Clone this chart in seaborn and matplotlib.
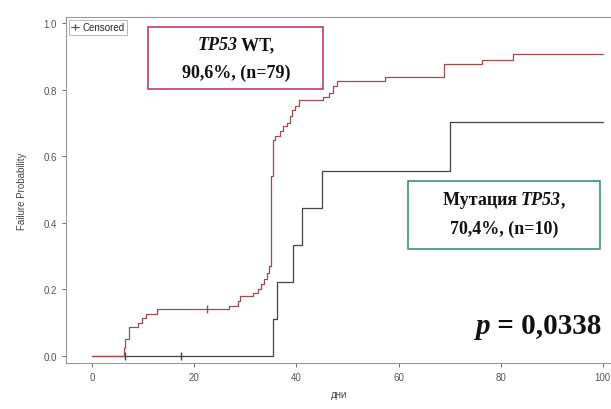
import numpy as np
import pandas as pd
import matplotlib
matplotlib.use('Agg')
import matplotlib.pyplot as plt
import seaborn as sns
from matplotlib.lines import Line2D
from matplotlib.patches import Rectangle

# cumulative failure probability
wt_time = [0, 6.3, 6.5, 7.2, 9.0, 9.7, 10.6, 12.8, 26.8, 28.5, 29.0, 31.5, 32.5, 33.0,
           33.6, 34.2, 34.6, 35.0, 35.5, 35.9, 36.8, 37.4, 38.1, 38.7, 39.2, 39.8, 40.5,
           45.2, 46.3, 47.2, 48.0, 57.3, 69.0, 76.3, 82.4, 100]
wt_prob = [0, 0.025, 0.05, 0.087, 0.10, 0.114, 0.127, 0.14, 0.15, 0.165, 0.18, 0.19, 0.20, 0.215,
           0.23, 0.25, 0.27, 0.54, 0.65, 0.66, 0.677, 0.69, 0.70, 0.72, 0.74, 0.75, 0.77,
           0.778, 0.79, 0.81, 0.826, 0.837, 0.877, 0.89, 0.906, 0.906]

mut_time = [0, 35.5, 36.2, 39.3, 41.1, 45.0, 70.0, 100]
mut_prob = [0, 0.111, 0.222, 0.333, 0.444, 0.556, 0.704, 0.704]

wt_cens_time = [22.5]
wt_cens_prob = [0.14]
mut_cens_time = [6.5, 17.5]
mut_cens_prob = [0, 0]

x_ticks = [0, 20, 40, 60, 80, 100]
y_ticks = [0.0, 0.2, 0.4, 0.6, 0.8, 1.0]

wt = pd.DataFrame({'time': wt_time, 'prob': wt_prob})
mut = pd.DataFrame({'time': mut_time, 'prob': mut_prob})

sns.set_style('ticks')
plt.rcParams['font.family'] = ['Liberation Sans', 'DejaVu Sans']

W, H = 611, 410
fig = plt.figure(figsize=(W / 100, H / 100), dpi=100)
ax = fig.add_axes([66 / W, 1 - 364 / H, (612 - 66) / W, (364 - 18) / H])

wt_col = '#9e4a55'
mut_col = '#444444'

sns.lineplot(data=mut, x='time', y='prob', ax=ax, color=mut_col, lw=0.9,
             drawstyle='steps-post', estimator=None, sort=False)
sns.lineplot(data=wt, x='time', y='prob', ax=ax, color=wt_col, lw=0.9,
             drawstyle='steps-post', estimator=None, sort=False)
sns.scatterplot(x=wt_cens_time, y=wt_cens_prob, ax=ax, marker='|', s=40,
                color=wt_col, linewidth=1)
sns.scatterplot(x=mut_cens_time, y=mut_cens_prob, ax=ax, marker='|', s=40,
                color=mut_col, linewidth=1)

ax.set_xlim(-5.1, 101.8)
ax.set_ylim(-0.021, 1.018)
ax.set_xticks(x_ticks)
ax.set_yticks(y_ticks)
ax.set_yticklabels([f'{v:.1f}' for v in y_ticks])
ax.tick_params(labelsize=7, colors='#555555', length=3, width=0.6)
for s in ax.spines.values():
    s.set_color('#999999')
    s.set_linewidth(0.8)
ax.set_xlabel('дни', fontsize=7, color='#444444', labelpad=5)
ax.set_ylabel('Failure Probability', fontsize=7, color='#444444', labelpad=12)

leg = ax.legend(handles=[Line2D([0], [0], color='#555555', lw=0.8, marker='|',
                                markersize=5, label='Censored')],
                loc='upper left', fontsize=7, frameon=True, fancybox=False,
                handlelength=0.8, handletextpad=0.3, borderpad=0.25,
                borderaxespad=0.3)
leg.get_frame().set_edgecolor('#999999')
leg.get_frame().set_linewidth(0.6)

serif = ['Liberation Serif', 'DejaVu Serif']
tf = fig.transFigure


def fx(px):
    return px / W


def fy(py):
    return 1 - py / H


# boxes
fig.patches.append(Rectangle((fx(148), fy(90)), fx(323) - fx(148), fy(28) - fy(90),
                             transform=tf, fill=True, facecolor='white',
                             edgecolor='#c23b5c', lw=1.2, zorder=5))
fig.patches.append(Rectangle((fx(408), fy(250)), fx(600) - fx(408), fy(182) - fy(250),
                             transform=tf, fill=True, facecolor='white',
                             edgecolor='#3c8f80', lw=1.2, zorder=5))


def rich_line(parts, cx, cy, size):
    # draw pieces one after another, then centre the whole line
    texts = []
    for s, style in parts:
        t = fig.text(0, fy(cy), s, transform=tf, va='center', ha='left',
                     fontsize=size, fontweight='bold', fontstyle=style, family=serif,
                     color='#111111', zorder=6)
        texts.append(t)
    fig.canvas.draw()
    r = fig.canvas.get_renderer()
    widths = [t.get_window_extent(r).width for t in texts]
    x0 = cx - sum(widths) / 2
    for t, w in zip(texts, widths):
        t.set_position((fx(x0), fy(cy)))
        x0 += w


rich_line([('TP53', 'italic'), (' WT,', 'normal')], 236, 46, 13)
rich_line([('90,6%, (n=79)', 'normal')], 236, 73, 13)
rich_line([('Мутация ', 'normal'), ('TP53', 'italic'), (',', 'normal')], 504, 201, 13)
rich_line([('70,4%, (n=10)', 'normal')], 504, 229, 13)
rich_line([('p', 'italic'), (' = 0,0338', 'normal')], 538, 326, 21)

fig.savefig('out.png', dpi=100)
